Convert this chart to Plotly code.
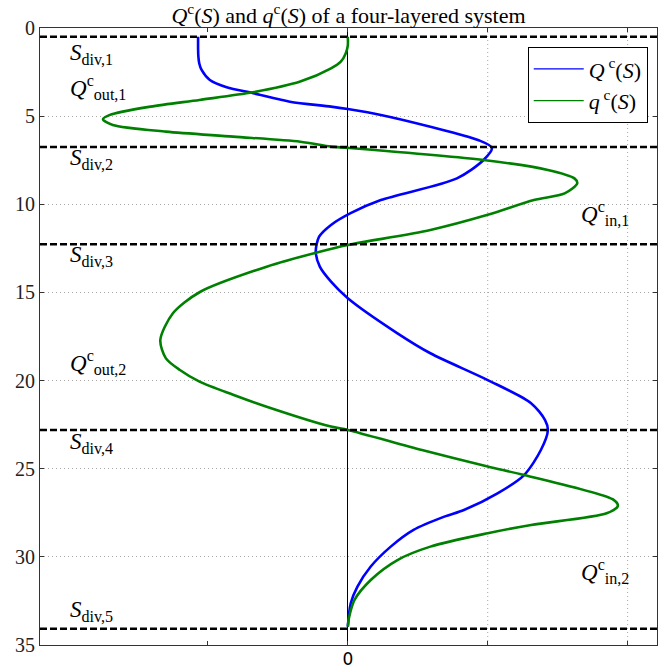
import plotly.graph_objects as go

# Depth coordinate S and the two profiles read along it
S_Q = [0.5, 1.2, 1.63, 2.0, 2.38, 2.95, 3.36, 3.7, 4.18, 4.46, 4.6, 4.93,
       5.6, 6.35, 6.8, 7.49, 8.53, 9.76, 10.5, 11.17, 11.84, 12.69, 13.54,
       14.39, 15.33, 17.32, 18.45, 19.97, 21.28, 22.24, 22.8, 23.94, 25.36,
       26.4, 27.34, 27.72, 28.47, 29.42, 30.55, 31.69, 32.63, 33.96]
Q_VAL = [-1.07, -1.07, -1.068, -1.062, -1.045, -0.986, -0.866, -0.676, -0.414,
         -0.12, 0.0, 0.236, 0.59, 0.93, 1.03, 0.97, 0.78, 0.236, 0.02, -0.12,
         -0.205, -0.229, -0.2, -0.12, 0.0, 0.355, 0.59, 1.0, 1.31, 1.41, 1.43,
         1.38, 1.26, 1.07, 0.83, 0.69, 0.47, 0.307, 0.164, 0.069, 0.021, 0.0]

S_q = [0.5, 1.0, 1.44, 1.91, 2.29, 3.04, 3.65, 4.08, 4.46, 4.93, 5.18, 5.5,
       5.88, 6.16, 6.45, 6.73, 6.8, 7.49, 8.05, 8.53, 8.81, 9.38, 9.76, 10.6,
       11.46, 12.31, 12.69, 13.54, 14.99, 16.18, 17.7, 18.74, 19.4, 20.06,
       20.8, 21.48, 22.61, 22.8, 23.94, 24.88, 25.36, 26.77, 27.11, 27.53,
       28.19, 28.66, 29.42, 30.18, 31.31, 32.44, 33.4, 33.96]
q_VAL = [0.0, 0.0, -0.015, -0.05, -0.12, -0.34, -0.68, -1.06, -1.41, -1.70,
         -1.75, -1.68, -1.30, -0.82, -0.34, -0.12, 0.0, 0.97, 1.43, 1.62, 1.64,
         1.55, 1.33, 1.0, 0.59, 0.0, -0.2, -0.58, -1.06, -1.25, -1.34, -1.30,
         -1.2, -1.06, -0.82, -0.58, -0.12, 0.0, 0.53, 1.0, 1.26, 1.9, 1.93,
         1.85, 1.31, 1.0, 0.59, 0.355, 0.164, 0.048, 0.01, 0.0]

# Layer boundaries
S_DIV = [0.5, 6.75, 12.27, 22.8, 34.08]
DIV_LABELS = ["div,1", "div,2", "div,3", "div,4", "div,5"]
DIV_LABEL_Y = [1.45, 7.45, 12.95, 23.55, 33.05]

OUT_LABELS = ["out,1", "out,2"]
OUT_LABEL_Y = [3.4, 19.0]
IN_LABELS = ["in,1", "in,2"]
IN_LABEL_Y = [10.55, 30.85]

X_TICKS = [-1, 0, 1, 2]
X_TICK_TEXT = ["", "0", "", ""]
X_GRID = [1, 2]
Y_TICKS = [0, 5, 10, 15, 20, 25, 30, 35]

BLUE = "#0000ff"
GREEN = "#008000"
GRID = "#a8a8a8"
SERIF = "Liberation Serif"

fig = go.Figure()

# main curves (legend handled by thin proxy lines below)
fig.add_trace(go.Scatter(x=Q_VAL, y=S_Q, mode="lines", showlegend=False,
                         line=dict(color=BLUE, width=2.6, shape="spline", smoothing=0.8)))
fig.add_trace(go.Scatter(x=q_VAL, y=S_q, mode="lines", showlegend=False,
                         line=dict(color=GREEN, width=2.6, shape="spline", smoothing=0.8)))

fig.add_trace(go.Scatter(x=[None], y=[None], mode="lines",
                         name="<i>Q</i><sup> c</sup>(<i>S</i>)",
                         line=dict(color=BLUE, width=1.2)))
fig.add_trace(go.Scatter(x=[None], y=[None], mode="lines",
                         name="<i>q</i><sup> c</sup>(<i>S</i>)",
                         line=dict(color=GREEN, width=1.2)))

# vertical dotted grid lines
for gx in X_GRID:
    fig.add_shape(type="line", xref="x", yref="paper", x0=gx, x1=gx, y0=0, y1=1,
                  line=dict(color=GRID, width=1, dash="1px,3px"), layer="below")

# layer boundaries
for s in S_DIV:
    fig.add_shape(type="line", xref="paper", yref="y", x0=0, x1=1, y0=s, y1=s,
                  line=dict(color="black", width=2.6, dash="7px,3px"), layer="above")

ann_font = dict(family=SERIF, size=23, color="black")
for lab, y in zip(DIV_LABELS, DIV_LABEL_Y):
    fig.add_annotation(x=-2.0, y=y, xref="x", yref="y", xanchor="left", yanchor="middle",
                       text=f"<i>S</i><sub>{lab}</sub>", showarrow=False, font=ann_font)
for lab, y in zip(OUT_LABELS, OUT_LABEL_Y):
    fig.add_annotation(x=-2.0, y=y, xref="x", yref="y", xanchor="left", yanchor="middle",
                       text=f"<i>Q</i><sup>c</sup><sub>{lab}</sub>", showarrow=False, font=ann_font)
for lab, y in zip(IN_LABELS, IN_LABEL_Y):
    fig.add_annotation(x=1.65, y=y, xref="x", yref="y", xanchor="left", yanchor="middle",
                       text=f"<i>Q</i><sup>c</sup><sub>{lab}</sub>", showarrow=False, font=ann_font)

fig.update_layout(
    width=662, height=669,
    margin=dict(l=40, r=5, t=28, b=24),
    paper_bgcolor="white", plot_bgcolor="white",
    title=dict(text="<i>Q</i><sup>c</sup>(<i>S</i>) and <i>q</i><sup>c</sup>(<i>S</i>) of a four-layered system",
               x=0.5, xref="paper", xanchor="center", y=0.977, yref="container", yanchor="middle",
               font=dict(family=SERIF, size=22, color="black")),
    showlegend=True,
    legend=dict(x=0.985, xanchor="right", y=0.969, yanchor="top",
                bordercolor="black", borderwidth=1, bgcolor="white",
                font=dict(family=SERIF, size=22, color="black"),
                itemwidth=50, tracegroupgap=0),
    xaxis=dict(range=[-2.2, 2.21], tickvals=X_TICKS, ticktext=X_TICK_TEXT,
               showgrid=False, zeroline=True, zerolinecolor="black", zerolinewidth=1,
               showline=True, mirror="ticks", linecolor="#333333", linewidth=1,
               ticks="inside", ticklen=4, tickcolor="#333333",
               tickfont=dict(family="DejaVu Sans", size=17, color="black"),
               ticklabelstandoff=-1, automargin=False),
    yaxis=dict(range=[35, 0], tickvals=Y_TICKS, showgrid=True, gridcolor=GRID,
               griddash="1px,3px", gridwidth=1, zeroline=False,
               showline=True, mirror="ticks", linecolor="#333333", linewidth=1,
               ticks="inside", ticklen=4, tickcolor="#333333",
               tickfont=dict(family=SERIF, size=20, color="#222222"),
               automargin=False),
)

fig.write_html("out.html")
